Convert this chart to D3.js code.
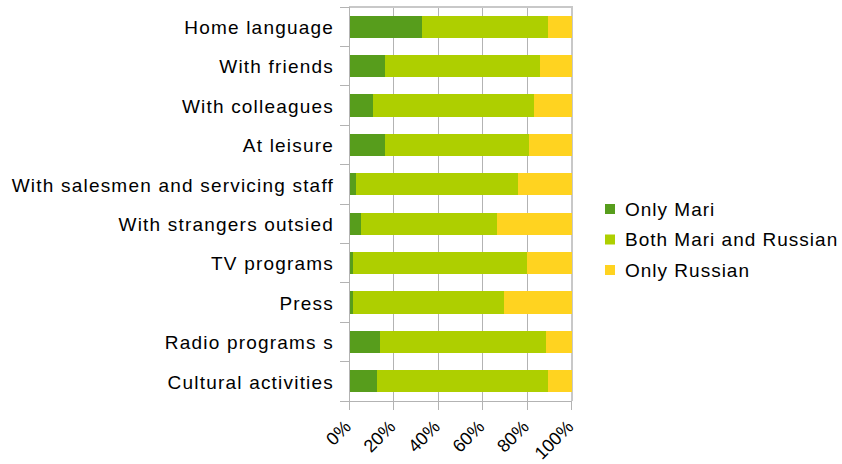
<!DOCTYPE html>
<html><head><meta charset="utf-8">
<script src="https://cdn.jsdelivr.net/npm/d3@7/dist/d3.min.js"></script>
<style>
html,body{margin:0;padding:0;background:#fff;}
svg text{font-family:"Liberation Sans",Arial,sans-serif;fill:#000;}
</style></head>
<body><svg id="c" width="842" height="464"></svg>
<script>
const categories = ["Home language","With friends","With colleagues","At leisure","With salesmen and servicing staff","With strangers outsied","TV programs","Press","Radio programs  s","Cultural activities"];
const onlyMari = [33, 16, 11, 16, 3, 5.5, 2, 2, 14, 12.5];
const bothMariRussian = [56.5, 70, 72, 65, 73, 61, 78, 67.5, 74.5, 77];
const onlyRussian = [10.5, 14, 17, 19, 24, 33.5, 20, 30.5, 11.5, 10.5];
const seriesNames = ["Only Mari","Both Mari and Russian","Only Russian"];
const colors = ["#579d1c","#aecf00","#ffd320"];
const tickValues = [0, 0.2, 0.4, 0.6, 0.8, 1];

const svg = d3.select("#c");
const L = 349, R = 571.5, T = 7, B = 401;
const x = d3.scaleLinear().domain([0,1]).range([L,R]);
const y = d3.scaleBand().domain(categories).range([T,B]).paddingInner(0.44).paddingOuter(0.22);

const rows = categories.map((c,i)=>{
  const tot = onlyMari[i]+bothMariRussian[i]+onlyRussian[i];
  return {cat:c, "Only Mari":onlyMari[i]/tot, "Both Mari and Russian":bothMariRussian[i]/tot, "Only Russian":onlyRussian[i]/tot};
});
const stacked = d3.stack().keys(seriesNames)(rows);

// gridlines
svg.append("g").selectAll("line").data(tickValues.slice(1)).join("line")
  .attr("x1",d=>x(d)).attr("x2",d=>x(d)).attr("y1",T).attr("y2",B)
  .attr("stroke",d=>d===1?"#c8c8c8":"#b3b3b3").attr("stroke-width",d=>d===1?2:1)
  .attr("shape-rendering","crispEdges");
svg.append("line").attr("x1",L).attr("x2",R+1).attr("y1",T).attr("y2",T)
  .attr("stroke","#c8c8c8").attr("stroke-width",2).attr("shape-rendering","crispEdges");

// bars
svg.append("g").selectAll("g").data(stacked).join("g")
  .attr("fill",(d,i)=>colors[i])
  .selectAll("rect").data(d=>d).join("rect")
  .attr("x",d=>x(d[0])).attr("width",d=>x(d[1])-x(d[0]))
  .attr("y",d=>y(d.data.cat)).attr("height",y.bandwidth())
  .attr("shape-rendering","crispEdges");

// left axis
const yAxisG = svg.append("g").attr("shape-rendering","crispEdges");
yAxisG.append("line").attr("x1",L).attr("x2",L).attr("y1",T).attr("y2",B+9).attr("stroke","#b3b3b3");
const bounds = d3.range(categories.length+1).map(i=>T + i*(B-T)/categories.length);
yAxisG.selectAll("line.t").data(bounds).join("line").attr("class","t")
  .attr("x1",L-9).attr("x2",L).attr("y1",d=>d).attr("y2",d=>d).attr("stroke","#b3b3b3");
svg.append("g").selectAll("text").data(categories).join("text")
  .attr("x",334).attr("y",d=>y(d)+y.bandwidth()/2)
  .attr("dy","0.38em").attr("text-anchor","end")
  .style("font-size","19px").style("letter-spacing","1.2px")
  .text(d=>d);

// bottom axis
const xAxisG = svg.append("g").attr("shape-rendering","crispEdges");
xAxisG.append("line").attr("x1",L).attr("x2",R).attr("y1",B).attr("y2",B).attr("stroke","#b3b3b3");
xAxisG.selectAll("line.t").data(tickValues).join("line").attr("class","t")
  .attr("x1",d=>x(d)).attr("x2",d=>x(d)).attr("y1",B).attr("y2",B+9).attr("stroke","#b3b3b3");
const fmt = d3.format(".0%");
svg.append("g").selectAll("text").data(tickValues).join("text")
  .attr("transform",d=>`translate(${x(d)+3},${B+27}) rotate(-45)`)
  .attr("text-anchor","end")
  .style("font-size","18px")
  .text(d=>fmt(d));

// legend
const lg = svg.append("g");
seriesNames.forEach((s,i)=>{
  const cy = 209 + i*30.5;
  lg.append("rect").attr("x",605).attr("y",cy-5).attr("width",10).attr("height",10).attr("fill",colors[i]);
  lg.append("text").attr("x",625).attr("y",cy).attr("dy","0.36em")
    .style("font-size","19px").style("letter-spacing","1px").text(s);
});
</script></body></html>
